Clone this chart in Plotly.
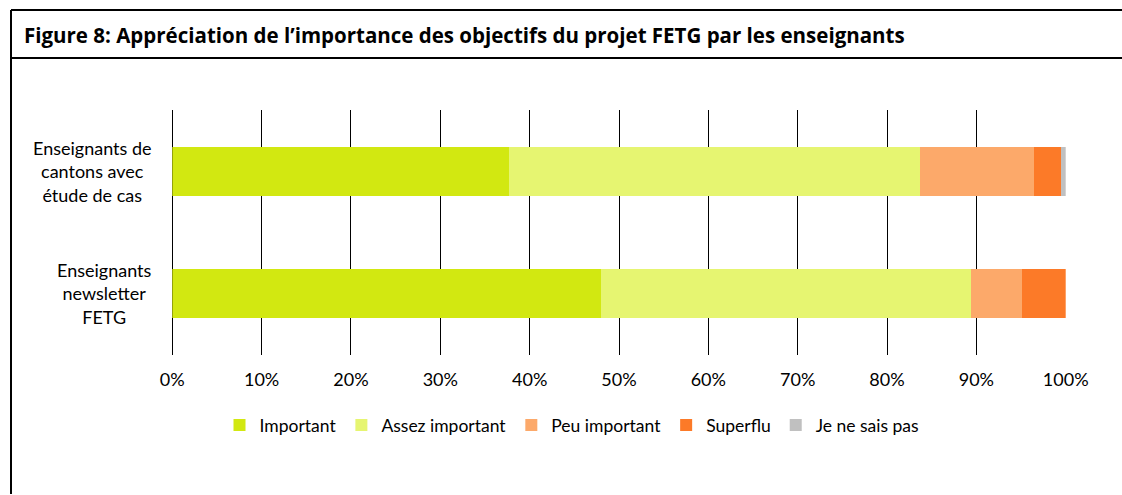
import plotly.graph_objects as go

W, H = 1122, 495

categories = ["Enseignants newsletter FETG", "Enseignants de cantons avec étude de cas"]
cat_labels = ["Enseignants<br>newsletter<br>FETG", "Enseignants de<br>cantons avec<br>étude de cas"]
series_names = ["Important", "Assez important", "Peu important", "Superflu", "Je ne sais pas"]
important = [48.0, 37.7]
assez_important = [41.4, 46.0]
peu_important = [5.7, 12.7]
superflu = [4.9, 3.1]
je_ne_sais_pas = [0.0, 0.5]
colors = ["#D2E811", "#E6F571", "#FCA96A", "#FC7A28", "#C0C0C0"]
title = "Figure 8: Appréciation de l’importance des objectifs du projet FETG par les enseignants"

FONT = "Lato"

def px(x):
    return x / W

def py(y):
    return 1 - y / H

fig = go.Figure()
for name, vals, col in zip(series_names,
                           [important, assez_important, peu_important, superflu, je_ne_sais_pas],
                           colors):
    fig.add_trace(go.Bar(y=categories, x=vals, name=name, orientation="h",
                         marker=dict(color=col, line=dict(width=0))))

fig.update_layout(
    width=W, height=H,
    margin=dict(l=0, r=0, t=0, b=0, autoexpand=False),
    paper_bgcolor="white", plot_bgcolor="white",
    barmode="stack", bargap=0.6,
    font=dict(family=FONT, size=16, color="#000000"),
    showlegend=True,
    legend=dict(orientation="h", x=px(572), xanchor="center", y=py(425), yanchor="middle",
                font=dict(family=FONT, size=17.5), itemwidth=30, traceorder="normal",
                bgcolor="rgba(0,0,0,0)"),
    xaxis=dict(domain=[px(172.3), px(1065.7)], range=[0, 100], dtick=10, tick0=0,
               ticksuffix="%", showgrid=True, gridcolor="#000000", gridwidth=1.3,
               zeroline=True, zerolinecolor="#000000", zerolinewidth=1.3,
               showline=False, ticks="", ticklabelstandoff=12, automargin=False,
               tickfont=dict(family=FONT, size=18)),
    yaxis=dict(domain=[py(355), py(110)], showticklabels=False, showgrid=False,
               zeroline=False, showline=False, categoryorder="array", automargin=False,
               categoryarray=categories),
)

for cat, lab in zip(categories, cat_labels):
    fig.add_annotation(x=px(154), xref="paper", y=cat, yref="y", text=lab,
                       showarrow=False, xanchor="right", yanchor="middle", align="center",
                       font=dict(family=FONT, size=18))

fig.add_annotation(x=px(22), xref="paper", y=py(35), yref="paper", text="<b>" + title + "</b>",
                   showarrow=False, xanchor="left", yanchor="middle",
                   font=dict(family="Open Sans", size=20.5))

lc = dict(color="#000000", width=2)
fig.add_shape(type="line", xref="paper", yref="paper", x0=px(11), x1=1, y0=py(10), y1=py(10), line=lc)
fig.add_shape(type="line", xref="paper", yref="paper", x0=px(11), x1=1, y0=py(58), y1=py(58), line=lc)
fig.add_shape(type="line", xref="paper", yref="paper", x0=px(11), x1=px(11), y0=py(10), y1=py(494), line=lc)

fig.write_html("out.html", config={"displayModeBar": False},
               post_script="document.body.style.margin='0';document.body.style.overflow='hidden';")
